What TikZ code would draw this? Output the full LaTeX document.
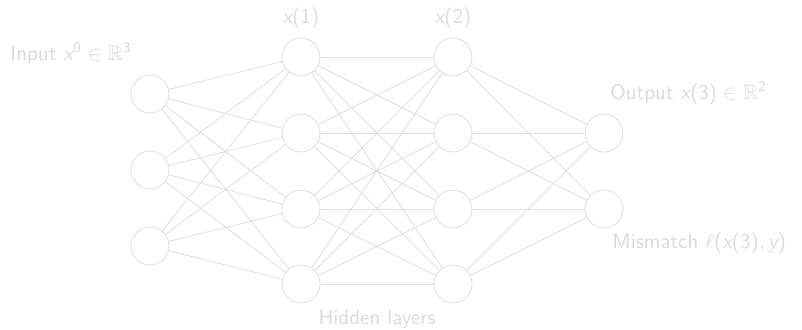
\documentclass[tikz,border=0pt]{standalone}
\usepackage{amsmath}
\usepackage{amssymb}
\usepackage{fontspec}
\definecolor{lg}{RGB}{224,224,224}
\definecolor{tg}{RGB}{218,218,218}
\newcommand{\mx}{\text{\itshape x}}
\newcommand{\my}{\text{\itshape y}}
\newcommand{\tx}[1]{\text{#1}}
\tikzset{
  neuron/.style={circle, draw=lg, line width=0.9pt, minimum size=38pt, inner sep=0pt},
  link/.style={draw=lg, line width=0.9pt},
  lbl/.style={text=tg, inner sep=0pt, scale=2.1, font=\sffamily}
}
\begin{document}
\begin{tikzpicture}[x=1pt,y=-1pt]
\useasboundingbox (0,0) rectangle (802,329);
\foreach \i/\y in {1/94,2/170,3/246} \node[neuron] (a\i) at (150,\y) {};
\foreach \i/\y in {1/57,2/133,3/209,4/284} \node[neuron] (b\i) at (301,\y) {};
\foreach \i/\y in {1/57,2/133,3/209,4/284} \node[neuron] (c\i) at (453,\y) {};
\foreach \i/\y in {1/133,2/209} \node[neuron] (d\i) at (604,\y) {};
\foreach \i in {1,2,3} \foreach \j in {1,2,3,4} \draw[link] (a\i) -- (b\j);
\foreach \i in {1,2,3,4} \foreach \j in {1,2,3,4} \draw[link] (b\i) -- (c\j);
\foreach \i in {1,2,3,4} \foreach \j in {1,2} \draw[link] (c\i) -- (d\j);
\node[lbl, anchor=base west] (tin) at (10,60) {Input $\mx^{\tx{0}}\in\mathbb{R}^{\tx{3}}$};
\node[lbl, anchor=base] (t1) at (301,24) {$\mx\tx{(1)}$};
\node[lbl, anchor=base] (t2) at (453,24) {$\mx\tx{(2)}$};
\node[lbl, anchor=base west] (tout) at (610,99) {Output $\mx\tx{(3)}\in\mathbb{R}^{\tx{2}}$};
\node[lbl, anchor=base west] (tmis) at (612,248) {Mismatch $\ell\tx{(}\mx\tx{(3)},\my\tx{)}$};
\node[lbl, anchor=base] (thid) at (377,324) {Hidden layers};
\end{tikzpicture}
\end{document}
